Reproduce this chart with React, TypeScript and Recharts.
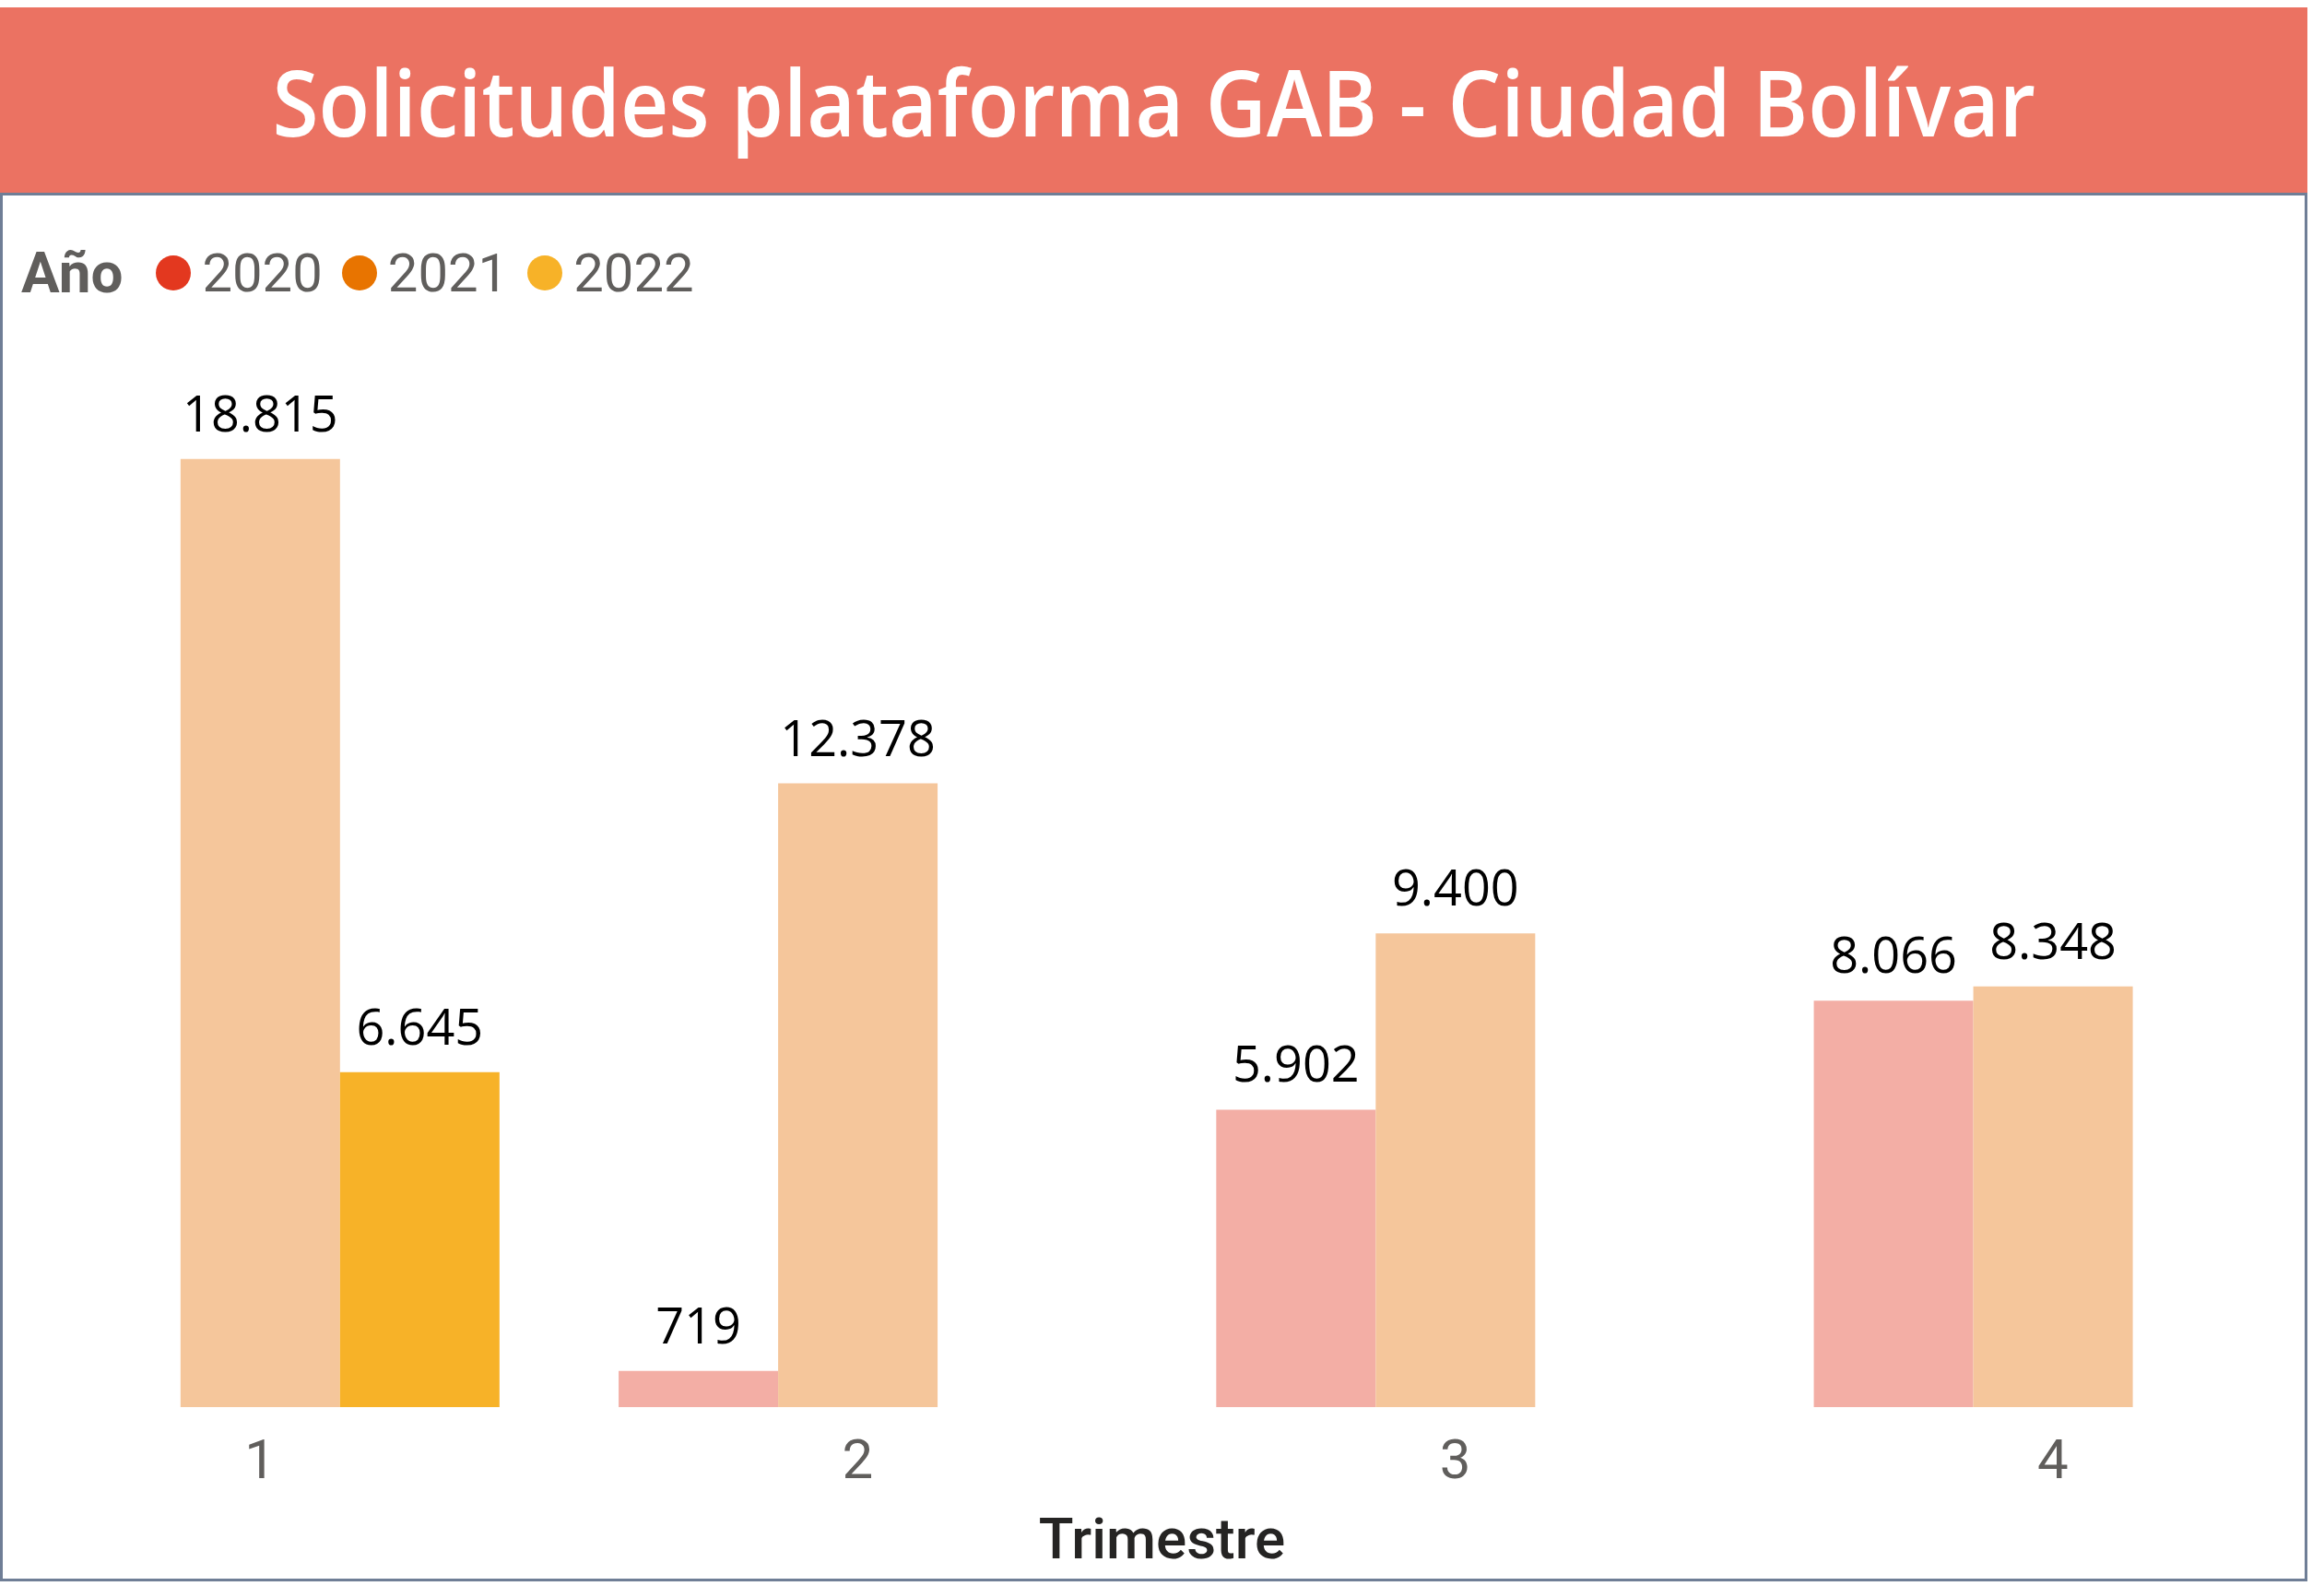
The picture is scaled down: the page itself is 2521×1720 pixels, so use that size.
import { BarChart, Bar, XAxis, YAxis, Legend, LabelList } from 'recharts';

const trimestres = ['1', '2', '3', '4'];
const anios = ['2020', '2021', '2022'];
const valores2020 = [null, 719, 5902, 8066];
const valores2021 = [18815, 12378, 9400, 8348];
const valores2022 = [6645, null, null, null];

// legend shows full colours, bars for 2020/2021 are drawn faded (highlight on 2022)
const coloresLeyenda = ['#E3381F', '#E87400', '#F7B228'];
const coloresBarras = ['#F3AEA5', '#F5C69B', '#F7B228'];

const data = trimestres.map((t, i) => ({
    trimestre: t,
    '2020': valores2020[i],
    '2021': valores2021[i],
    '2022': valores2022[i],
}));

const fmt = (v: any) => (v == null ? '' : String(v).replace(/\B(?=(\d{3})+(?!\d))/g, '.'));

function Leyenda() {
    return (
        <div style={{ display: 'flex', alignItems: 'center', fontFamily: 'Roboto', fontSize: 58, color: '#605E5C', whiteSpace: 'nowrap' }}>
            <span style={{ fontWeight: 700, fontSize: 62, marginRight: 36 }}>Año</span>
            {anios.map((a, i) => (
                <span key={a} style={{ display: 'flex', alignItems: 'center', marginRight: 21 }}>
                    <span style={{ width: 38, height: 38, borderRadius: '50%', background: coloresLeyenda[i], marginRight: 12 }} />
                    {a}
                </span>
            ))}
        </div>
    );
}

export default function App() {
    return (
        <div style={{ position: 'absolute', left: 0, top: 0, width: 2521, height: 1720, background: '#fff', overflow: 'hidden' }}>
            <div style={{
                position: 'absolute', left: 0, top: 8, width: 2503, height: 201, background: '#EB7262',
                display: 'flex', alignItems: 'center', justifyContent: 'center',
            }}>
                <span style={{
                    display: 'inline-block', transform: 'scaleX(0.91)', whiteSpace: 'nowrap',
                    color: '#fff', fontFamily: 'Open Sans', fontWeight: 600, fontSize: 100,
                }}>
                    Solicitudes plataforma GAB - Ciudad Bolívar
                </span>
            </div>
            <div style={{ position: 'absolute', left: 0, top: 209, width: 2503, height: 1506, border: '3px solid #6F7E96', boxSizing: 'border-box' }} />
            <div style={{ position: 'absolute', left: 0, top: 0 }}>
                <BarChart width={2521} height={1720} data={data} margin={{ top: 433, right: 0, bottom: 24, left: 0 }} barCategoryGap="10%" barGap={0}>
                    <XAxis
                        dataKey="trimestre"
                        padding={{ left: -42, right: -30 }}
                        axisLine={false}
                        tickLine={false}
                        tickSize={0}
                        tickMargin={34}
                        height={170}
                        tick={{ fill: '#605E5C', fontSize: 60, fontFamily: 'Roboto' }}
                        label={{ value: 'Trimestre', position: 'insideBottom', offset: 6, fill: '#252423', fontSize: 62, fontWeight: 500, fontFamily: 'Roboto' }}
                    />
                    <YAxis hide domain={[0, 20000]} />
                    <Legend
                        layout="horizontal"
                        verticalAlign="middle"
                        align="center"
                        wrapperStyle={{ top: 259, left: 23, width: 'auto' }}
                        content={() => <Leyenda />}
                    />
                    {anios.map((a, i) => (
                        <Bar key={a} dataKey={a} fill={coloresBarras[i]} isAnimationActive={false}>
                            <LabelList dataKey={a} position="top" offset={30} formatter={fmt} fill="#000" fontSize={54} fontFamily="Open Sans" />
                        </Bar>
                    ))}
                </BarChart>
            </div>
        </div>
    );
}
